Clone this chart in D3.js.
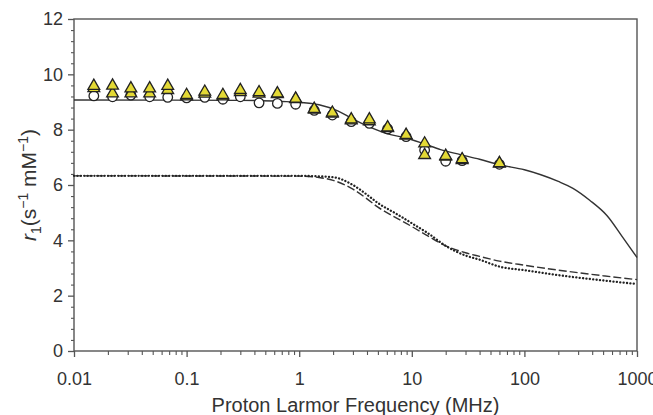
<!DOCTYPE html>
<html>
<head>
<meta charset="utf-8">
<script src="https://cdn.jsdelivr.net/npm/d3@7"></script>
<style>
  html, body { margin: 0; padding: 0; background: #fff; }
  svg { display: block; }
  text { font-family: "Liberation Sans", Arial, sans-serif; fill: #333; }
</style>
</head>
<body>
<svg id="chart" width="653" height="415"></svg>
<script>
// ---- data ----
const xTickValues = [0.01, 0.1, 1, 10, 100, 1000];
const xTickLabels = ["0.01", "0.1", "1", "10", "100", "1000"];
const yTickValues = [0, 2, 4, 6, 8, 10, 12];

const freqPts = [0.015, 0.022, 0.032, 0.047, 0.068, 0.1, 0.145, 0.21, 0.3, 0.44, 0.64, 0.93, 1.36, 1.97, 2.9, 4.2, 6.1, 8.9, 13, 20, 28, 60];
const triA =   [9.58, 9.59, 9.49, 9.49, 9.58, 9.25, 9.37, 9.25, 9.43, 9.35, 9.31, 9.12, 8.75, 8.61, 8.37, 8.37, 8.08, 7.81, 7.50, 7.05, 6.93, 6.79];
const triB =   [9.50, 9.31, 9.31, 9.31, 9.43, 9.20, 9.30, 9.20, 9.35, 9.30, 9.28, 9.10, 8.72, 8.58, 8.33, 8.30, 8.05, 7.78, 7.08, 7.02, 6.90, 6.77];
const circ =   [9.22, 9.19, 9.25, 9.19, 9.17, 9.15, 9.17, 9.10, 9.19, 8.97, 8.95, 8.92, 8.70, 8.53, 8.29, 8.23, 8.03, 7.75, 7.26, 6.86, 6.88, 6.75];

const solidF = [0.01, 0.3, 0.7, 1, 1.5, 2.2, 2.9, 4.2, 6.1, 8.9, 13, 18, 27, 40, 60, 100, 140, 200, 270, 380, 540, 750, 1000];
const solidV = [9.07, 9.06, 9.02, 8.99, 8.90, 8.68, 8.42, 8.10, 7.85, 7.70, 7.48, 7.28, 7.10, 6.93, 6.73, 6.55, 6.37, 6.13, 5.88, 5.45, 4.90, 4.10, 3.38];

const dashF = [0.01, 1, 1.5, 2, 3, 4, 5, 7, 10, 14, 20, 30, 40, 60, 100, 240, 500, 1000];
const dashV = [6.33, 6.32, 6.27, 6.17, 5.85, 5.50, 5.20, 4.85, 4.50, 4.15, 3.80, 3.55, 3.42, 3.25, 3.10, 2.88, 2.72, 2.58];

const dotF = [0.01, 1, 2, 3, 4, 5, 7, 10, 14, 20, 30, 40, 60, 100, 240, 500, 1000];
const dotV = [6.33, 6.33, 6.28, 6.00, 5.65, 5.35, 5.00, 4.62, 4.25, 3.80, 3.45, 3.30, 3.05, 2.92, 2.70, 2.55, 2.42];

// ---- layout ----
const L = 74, R = 637, T = 19, B = 351;
const svg = d3.select("#chart");
const x = d3.scaleLog().domain([0.01, 1000]).range([L, R]);
const y = d3.scaleLinear().domain([0, 12]).range([B, T]);

const axisColor = "#555";
const tickFont = 18;

// frame
svg.append("rect").attr("x", L).attr("y", T).attr("width", R - L).attr("height", B - T)
  .attr("fill", "none").attr("stroke", axisColor).attr("stroke-width", 1.4);

// x ticks
const xMinor = [];
for (let e = -2; e < 3; e++) for (let m = 2; m <= 9; m++) xMinor.push(m * Math.pow(10, e));
const gx = svg.append("g").attr("transform", `translate(0,${B})`)
  .call(d3.axisBottom(x).tickValues(xTickValues).tickSize(6).tickPadding(15)
    .tickFormat((d, i) => xTickLabels[i]));
gx.select(".domain").remove();
gx.selectAll("line").attr("stroke", axisColor).attr("stroke-width", 1.3);
gx.selectAll("text").attr("font-size", tickFont).attr("fill", "#333")
  .attr("font-family", "Liberation Sans, Arial, sans-serif");
const gxm = svg.append("g").attr("transform", `translate(0,${B})`)
  .call(d3.axisBottom(x).tickValues(xMinor).tickSize(4).tickFormat(""));
gxm.select(".domain").remove();
gxm.selectAll("line").attr("stroke", axisColor).attr("stroke-width", 1.1);

// y ticks
const yMinor = d3.range(0, 12.001, 0.4).filter(v => Math.abs(v / 2 - Math.round(v / 2)) > 1e-6);
const gy = svg.append("g").attr("transform", `translate(${L},0)`)
  .call(d3.axisLeft(y).tickValues(yTickValues).tickSize(6).tickPadding(5));
gy.select(".domain").remove();
gy.selectAll("line").attr("stroke", axisColor).attr("stroke-width", 1.3);
gy.selectAll("text").attr("font-size", tickFont).attr("fill", "#333")
  .attr("font-family", "Liberation Sans, Arial, sans-serif");
const gym = svg.append("g").attr("transform", `translate(${L},0)`)
  .call(d3.axisLeft(y).tickValues(yMinor).tickSize(3).tickFormat(""));
gym.select(".domain").remove();
gym.selectAll("line").attr("stroke", axisColor).attr("stroke-width", 1.1);

// curves
const line = d3.line().x(d => x(d[0])).y(d => y(d[1])).curve(d3.curveMonotoneX);
svg.append("path").datum(dashF.map((f, i) => [f, dashV[i]]))
  .attr("d", line).attr("fill", "none").attr("stroke", "#333").attr("stroke-width", 1.4)
  .attr("stroke-dasharray", "8,3");
svg.append("path").datum(dotF.map((f, i) => [f, dotV[i]]))
  .attr("d", line).attr("fill", "none").attr("stroke", "#222").attr("stroke-width", 2.3)
  .attr("stroke-linecap", "round").attr("stroke-dasharray", "0.1,3.3");
svg.append("path").datum(solidF.map((f, i) => [f, solidV[i]]))
  .attr("d", line).attr("fill", "none").attr("stroke", "#333").attr("stroke-width", 1.4);

// markers
const circSym = d3.symbol().type(d3.symbolCircle).size(72);
const triSym = d3.symbol().type(d3.symbolTriangle).size(60);
svg.append("g").selectAll("path").data(freqPts.map((f, i) => [f, circ[i]])).join("path")
  .attr("transform", d => `translate(${x(d[0])},${y(d[1])})`)
  .attr("d", circSym).attr("fill", "#fff").attr("stroke", "#222").attr("stroke-width", 1.3);
svg.append("g").selectAll("path").data(freqPts.map((f, i) => [f, triB[i]])).join("path")
  .attr("transform", d => `translate(${x(d[0])},${y(d[1])})`)
  .attr("d", triSym).attr("fill", "#e3d935").attr("stroke", "#222").attr("stroke-width", 1.3);
svg.append("g").selectAll("path").data(freqPts.map((f, i) => [f, triA[i]])).join("path")
  .attr("transform", d => `translate(${x(d[0])},${y(d[1])})`)
  .attr("d", triSym).attr("fill", "#e3d935").attr("stroke", "#222").attr("stroke-width", 1.3);

// axis titles
svg.append("text").attr("x", (L + R) / 2).attr("y", 412).attr("text-anchor", "middle")
  .attr("font-size", 20).text("Proton Larmor Frequency (MHz)");

const yt = svg.append("text").attr("transform", `translate(36,${(T + B) / 2}) rotate(-90)`)
  .attr("text-anchor", "middle").attr("font-size", 21);
yt.append("tspan").attr("font-style", "italic").text("r");
yt.append("tspan").attr("font-size", 14).attr("dy", 5).text("1");
yt.append("tspan").attr("dy", -5).text("(s");
yt.append("tspan").attr("font-size", 14).attr("dy", -8).text("\u22121");
yt.append("tspan").attr("dy", 8).text(" mM");
yt.append("tspan").attr("font-size", 14).attr("dy", -8).text("\u22121");
yt.append("tspan").attr("dy", 8).text(")");
</script>
</body>
</html>
